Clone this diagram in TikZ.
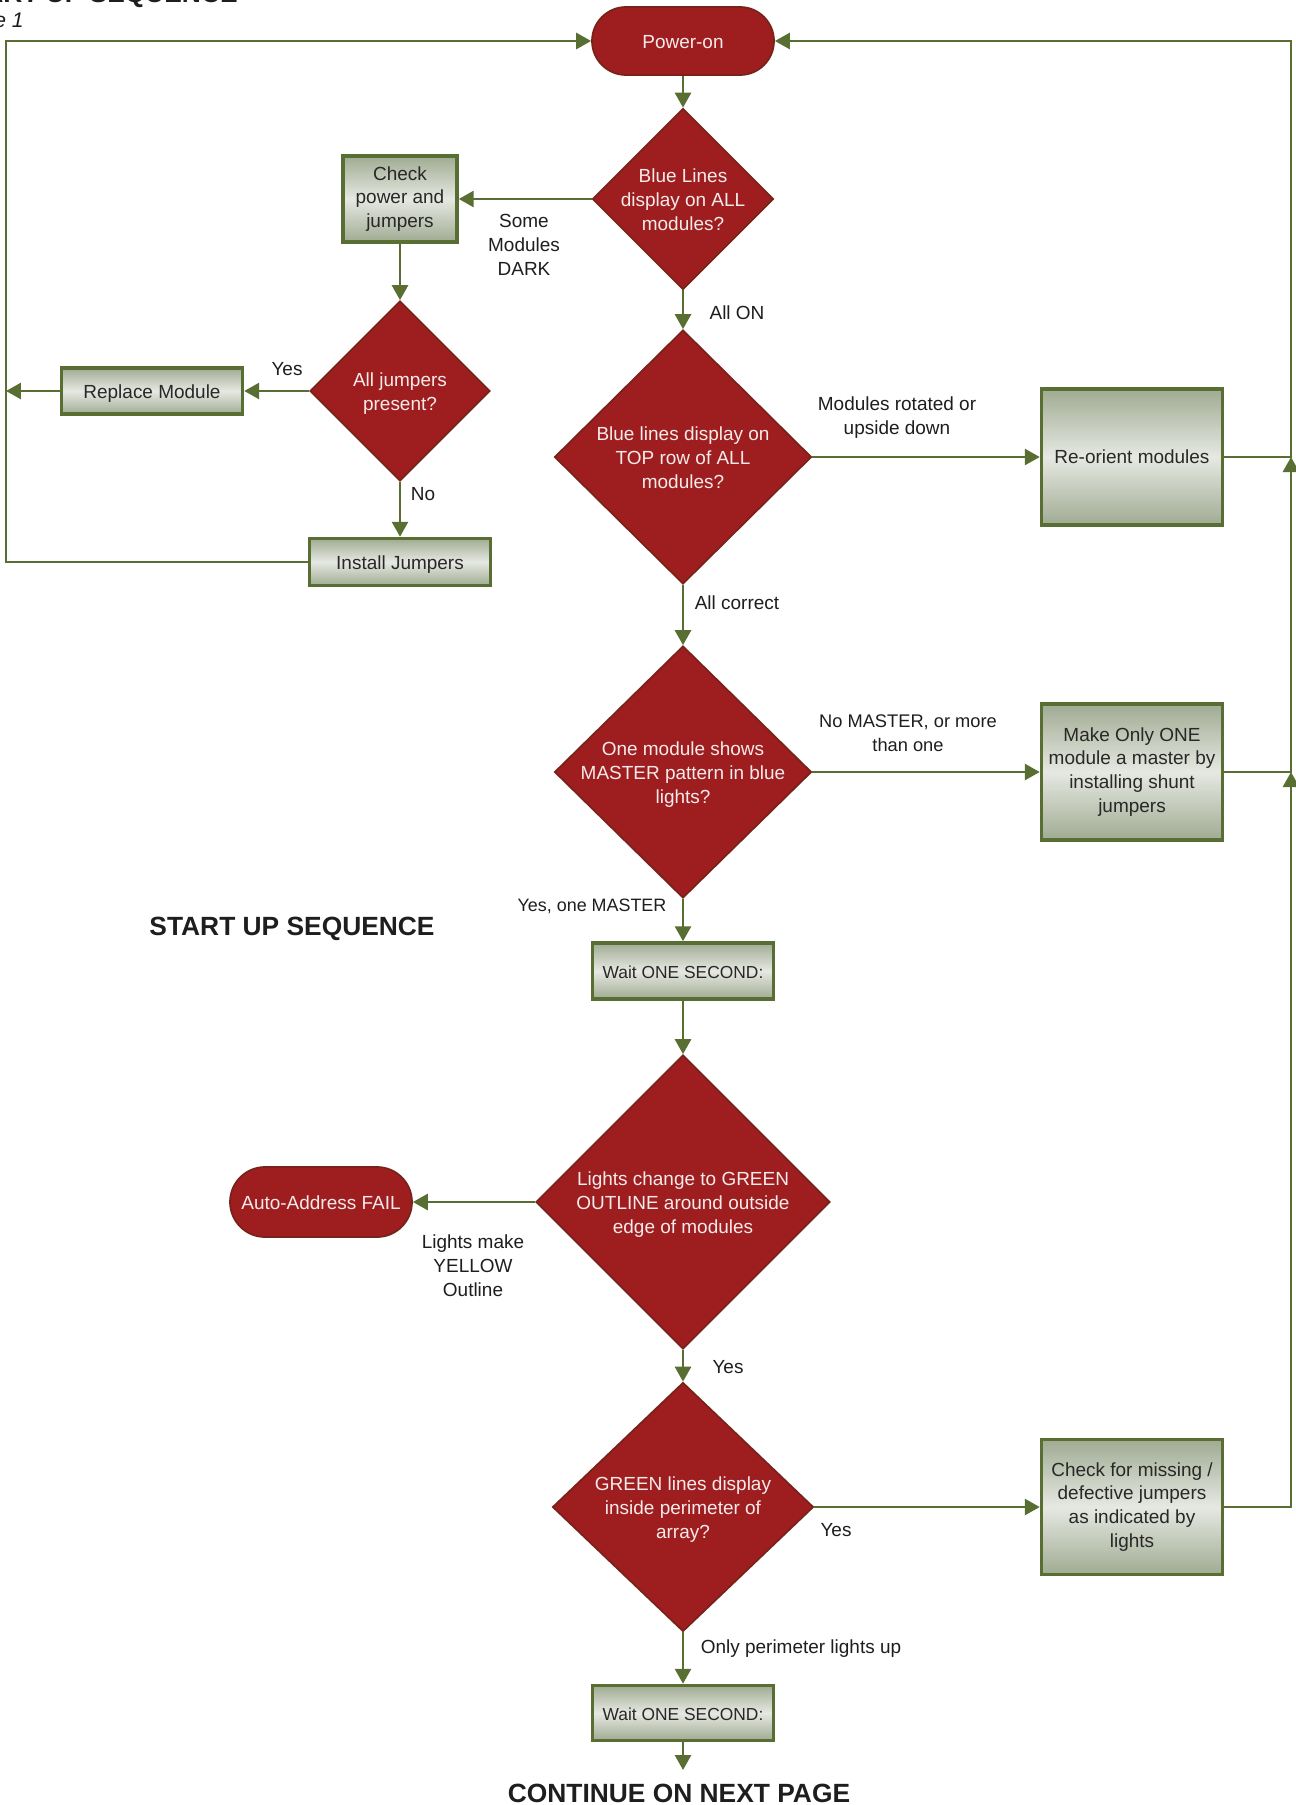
\documentclass[tikz,border=0pt]{standalone}
\usepackage{fontspec}
\setmainfont{Liberation Sans}
\usetikzlibrary{shapes.geometric,arrows.meta}

\definecolor{flowgreen}{RGB}{88,110,50}
\definecolor{boxedge}{RGB}{160,171,146}
\definecolor{boxmid}{RGB}{230,232,226}
\definecolor{boxtext}{RGB}{40,40,40}
\definecolor{redfill}{RGB}{158,30,32}
\definecolor{reddark}{RGB}{120,34,26}
\definecolor{redtext}{RGB}{246,234,234}
\definecolor{labeltext}{RGB}{30,30,30}

\newcommand{\bodyfont}{\fontsize{10.8}{13.6}\selectfont}
\newcommand{\headfont}{\fontsize{15}{18}\selectfont\bfseries}
\newcommand{\dtext}[1]{\smash{\makebox[0pt]{\raisebox{-4.3pt}{\begin{tabular}{@{}c@{}}#1\end{tabular}}}}}

\tikzset{
  flow/.style={draw=flowgreen, line width=1.6pt, -{Triangle[length=0.3cm,width=0.32cm]}},
  process/.style={rectangle, draw=flowgreen, line width=2pt, top color=boxedge, bottom color=boxedge,
    middle color=boxmid, text=boxtext, align=center, minimum width=3.62cm, inner sep=1pt, font=\bodyfont},
  oneline/.style={text height=9.5pt, text depth=0.5pt},
  decision/.style={diamond, draw=reddark, line width=1pt, fill=redfill, text=redtext, inner sep=0pt, font=\bodyfont},
  terminal/.style={rectangle, rounded corners=0.68cm, draw=reddark, line width=1pt, fill=redfill,
    text=redtext, minimum width=3.64cm, minimum height=1.36cm, font=\bodyfont, oneline},
  note/.style={text=labeltext, align=center, font=\bodyfont, inner sep=0pt},
  heading/.style={font=\headfont, text=labeltext, inner sep=0pt}
}

\begin{document}
\begin{tikzpicture}[x=0.02cm, y=-0.02cm]
  % Page
  \useasboundingbox[fill=white] (0,0) rectangle (1295,1805);

  % Titles
  \node[heading, anchor=base east] (toptitle) at (238,3) {START UP SEQUENCE};
  \node[font=\fontsize{12}{14}\selectfont\itshape, text=labeltext, inner sep=0pt, anchor=base east] (pageno) at (24,28) {Page 1};
  \node[heading] (title) at (292,929) {START UP SEQUENCE};
  \node[heading, anchor=base] (cont) at (679,1802) {CONTINUE ON NEXT PAGE};

  % Terminals
  \node[terminal] (pwr) at (683,41) {Power-on};
  \node[terminal, minimum height=1.4cm, rounded corners=0.7cm] (fail) at (321,1202) {Auto-Address FAIL};

  % Decisions
  \node[decision, minimum width=3.62cm, minimum height=3.62cm] (allblue) at (683,199)
    {\dtext{Blue Lines\\display on ALL\\modules?}};
  \node[decision, minimum width=3.6cm, minimum height=3.6cm] (jmp) at (400,391)
    {\dtext{All jumpers\\present?}};
  \node[decision, minimum width=5.14cm, minimum height=5.08cm] (toprow) at (683,457)
    {\dtext{Blue lines display on\\TOP row of ALL\\modules?}};
  \node[decision, minimum width=5.14cm, minimum height=5.04cm] (master) at (683,772)
    {\dtext{One module shows\\MASTER pattern in blue\\lights?}};
  \node[decision, minimum width=5.88cm, minimum height=5.88cm] (outline) at (683,1202)
    {\dtext{Lights change to GREEN\\OUTLINE around outside\\edge of modules}};
  \node[decision, minimum width=5.22cm, minimum height=4.98cm] (inside) at (683,1507)
    {\dtext{GREEN lines display\\inside perimeter of\\array?}};

  % Boxes
  \node[process, minimum width=2.28cm, minimum height=1.72cm] (chkpwr) at (400,199) {Check\\power and\\jumpers};
  \node[process, oneline, minimum height=0.92cm] (repl) at (152,391) {Replace Module};
  \node[process, oneline, minimum height=0.94cm] (inst) at (400,562) {Install Jumpers};
  \node[process, minimum height=2.72cm] (reor) at (1132,457) {Re-orient modules};
  \node[process, minimum height=2.72cm] (onemst) at (1132,772) {Make Only ONE\\module a master by\\installing shunt\\jumpers};
  \node[process, oneline, minimum height=1.12cm, font=\fontsize{9.9}{13}\selectfont] (wait1) at (683,971) {Wait ONE SECOND:};
  \node[process, minimum height=2.7cm] (chkmiss) at (1132,1507) {Check for missing /\\defective jumpers\\as indicated by\\lights};
  \node[process, oneline, minimum height=1.1cm, font=\fontsize{9.9}{13}\selectfont] (wait2) at (683,1713) {Wait ONE SECOND:};

  % Rails
  \coordinate (ltop) at (6,41);
  \coordinate (lbot) at (6,562);
  \coordinate (rtop) at (1291,41);
  \coordinate (nextpg) at (683,1770);

  % Arrows
  \draw[flow] (pwr) -- (allblue);
  \draw[flow] (allblue.west) -- (chkpwr.east);
  \draw[flow] (allblue) -- (toprow);
  \draw[flow] (chkpwr) -- (jmp);
  \draw[flow] (jmp.west) -- (repl.east);
  \draw[flow] (repl.west) -- (repl.west -| lbot);
  \draw[flow] (jmp) -- (inst);
  \draw[flow] (inst.west) -- (lbot) -- (ltop) -- (pwr.west);
  \draw[flow] (toprow.east) -- (reor.west);
  \draw[flow] (reor.east) -| (rtop) -- (pwr.east);
  \draw[flow] (toprow) -- (master);
  \draw[flow] (master.east) -- (onemst.west);
  \draw[flow] (onemst.east) -| (reor.east -| rtop);
  \draw[flow] (master) -- (wait1);
  \draw[flow] (wait1) -- (outline);
  \draw[flow] (outline.west) -- (fail.east);
  \draw[flow] (outline) -- (inside);
  \draw[flow] (inside.east) -- (chkmiss.west);
  \draw[flow] (chkmiss.east) -| (onemst.east -| rtop);
  \draw[flow] (inside) -- (wait2);
  \draw[flow] (wait2) -- (nextpg);

  % Labels
  \node[note] (ldark) at (524,245) {Some\\Modules\\DARK};
  \node[note] (lallon) at (737,313) {All ON};
  \node[note] (lyes1) at (287,369) {Yes};
  \node[note] (lno) at (423,494) {No};
  \node[note] (lrot) at (897,418) {Modules rotated or\\upside down};
  \node[note] (lcorr) at (737,603) {All correct};
  \node[note, font=\fontsize{10.4}{13.6}\selectfont] (lnomst) at (908,733) {No MASTER, or more\\than one};
  \node[note, font=\fontsize{10.2}{13.6}\selectfont] (lonemst) at (592,906) {Yes, one MASTER};
  \node[note] (lyellow) at (473,1266) {Lights make\\YELLOW\\Outline};
  \node[note] (lyes2) at (728,1367) {Yes};
  \node[note] (lyes3) at (836,1530) {Yes};
  \node[note] (lperim) at (801,1649) {Only perimeter lights up};
\end{tikzpicture}
\end{document}
